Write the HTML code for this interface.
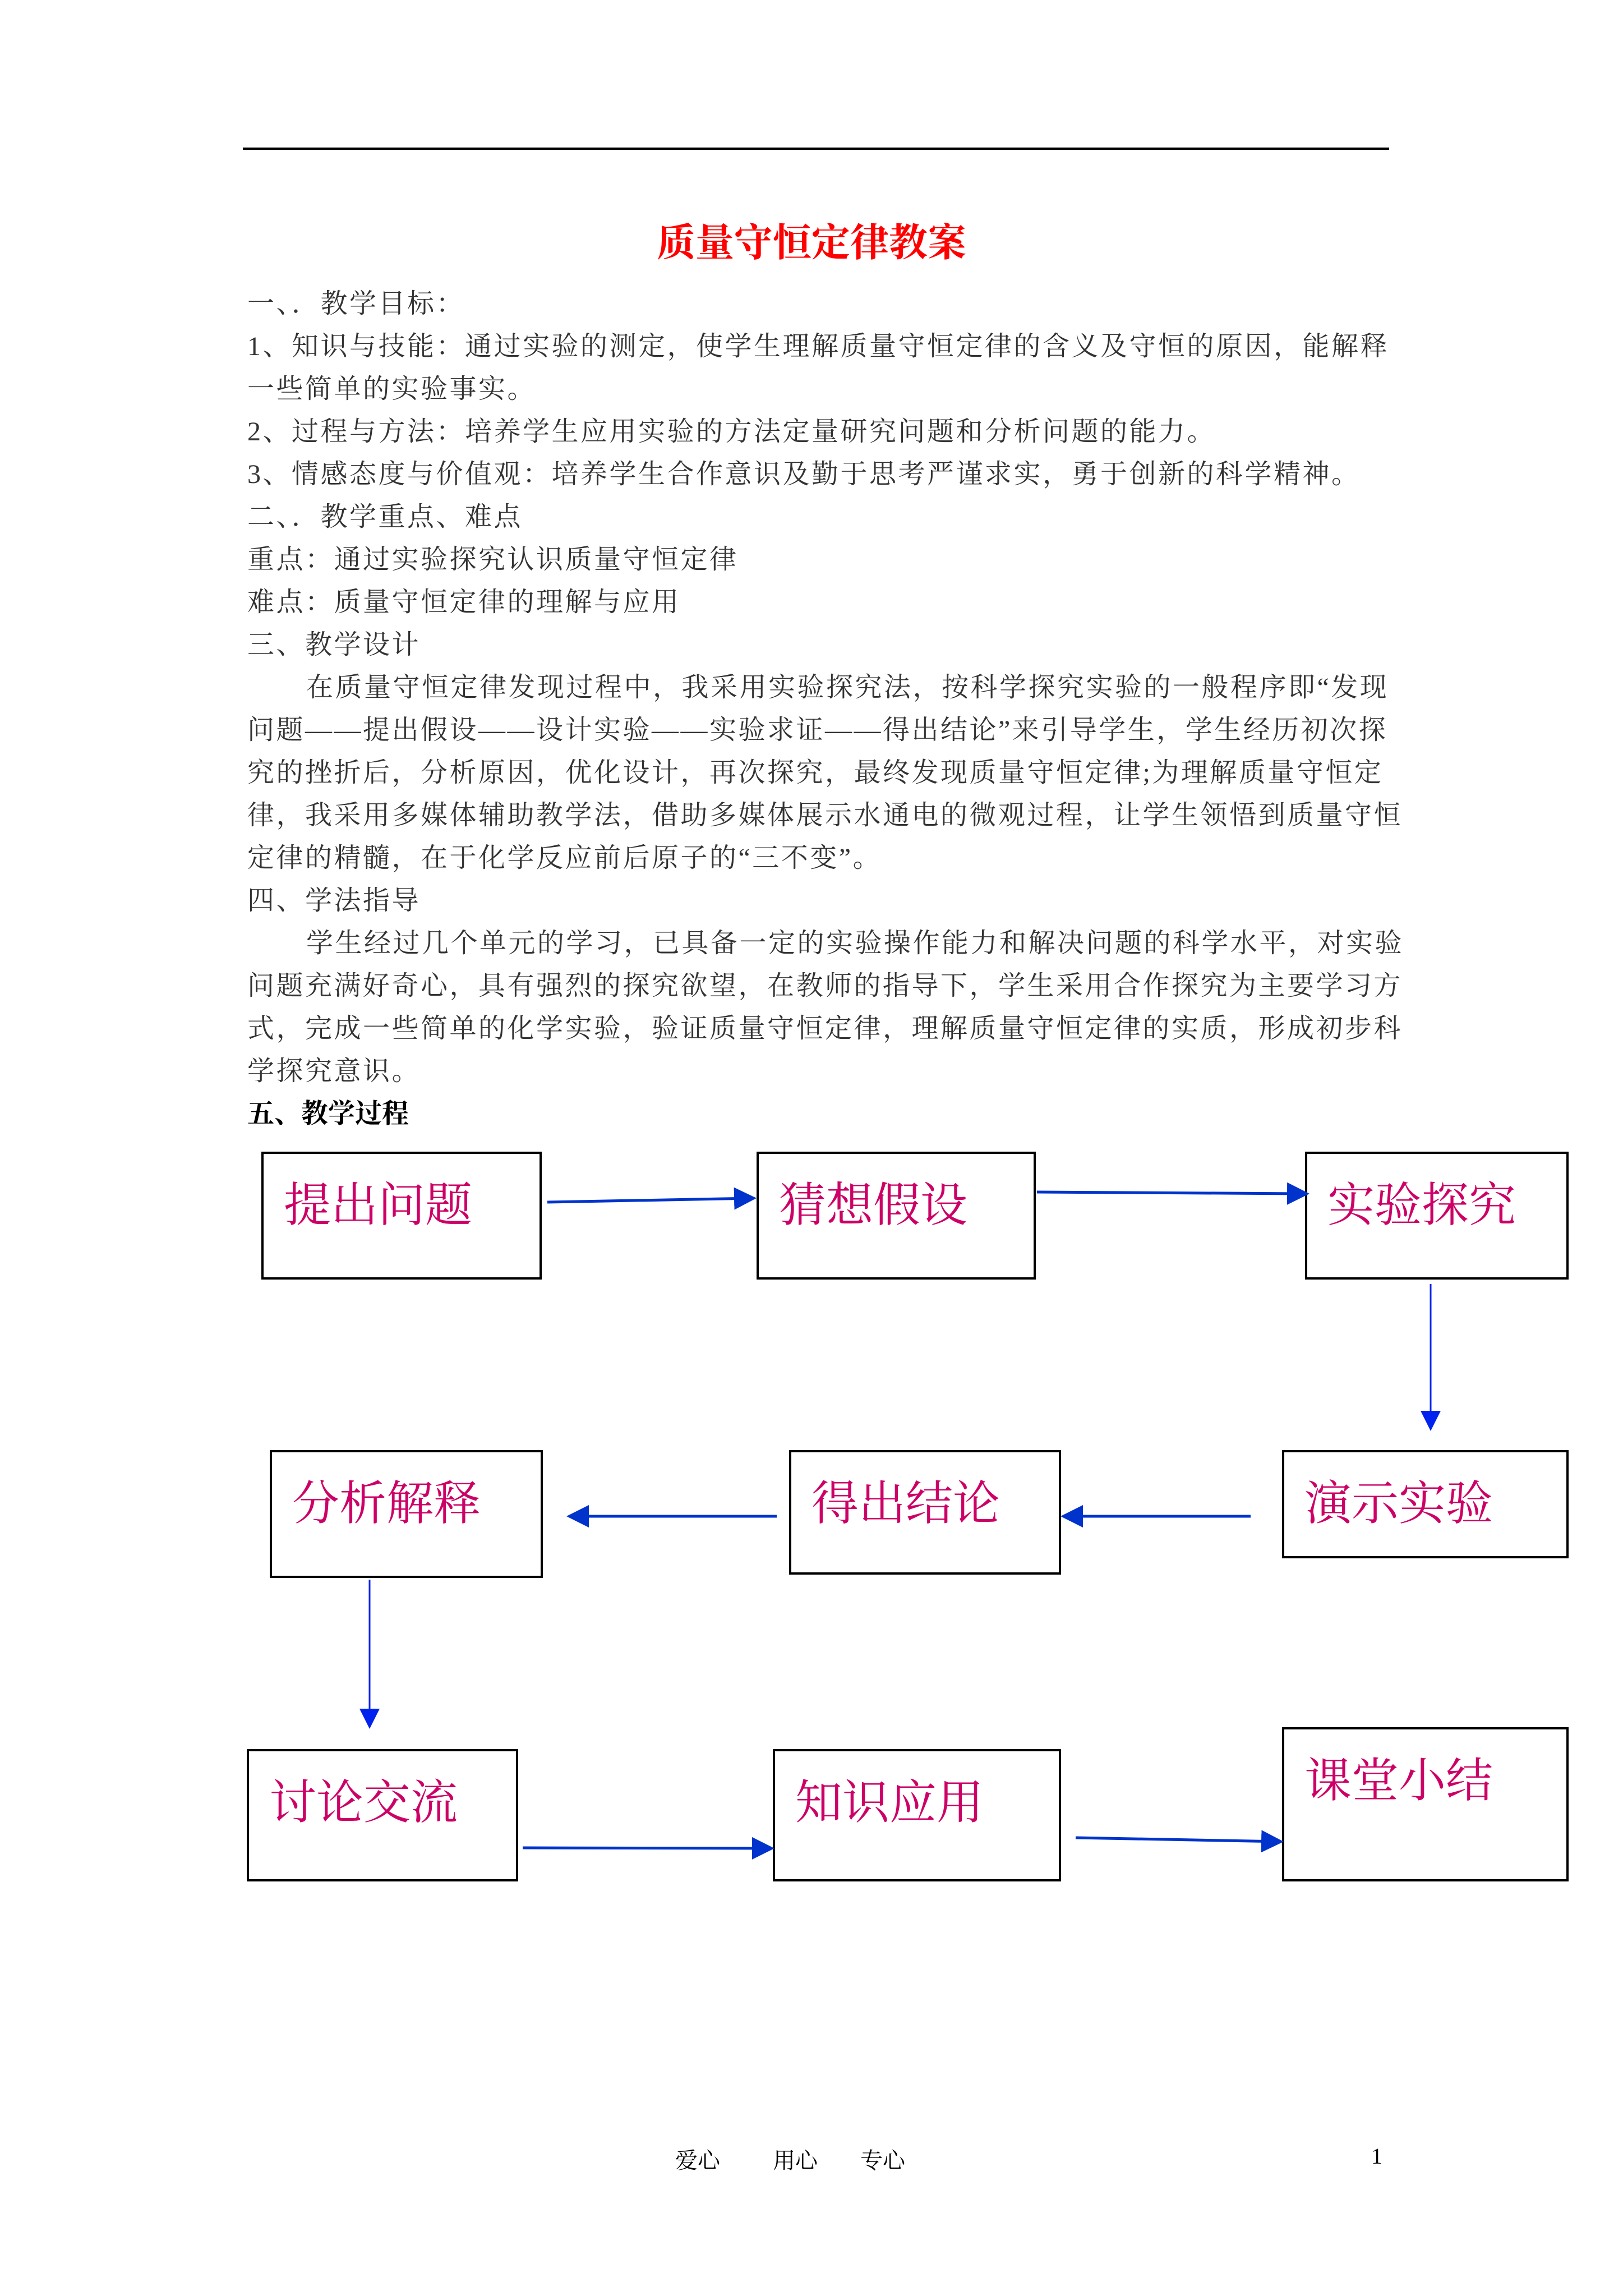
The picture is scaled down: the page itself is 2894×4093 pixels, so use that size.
<!DOCTYPE html>
<html><head><meta charset="utf-8">
<style>
html,body{margin:0;padding:0;background:#fff;}
body{width:2894px;height:4093px;position:relative;overflow:hidden;font-family:"Liberation Serif","Noto Serif CJK SC",serif;}
.rule{position:absolute;left:433px;top:263px;width:2044px;height:4px;background:#000;}
.title{position:absolute;left:0;width:2894px;top:393px;text-align:center;color:#ff0000;font-size:69px;font-weight:bold;line-height:80px;}
.t{position:absolute;left:441px;font-size:48px;line-height:60px;color:#333;white-space:nowrap;letter-spacing:3.5px;}
.box{position:absolute;border:4px solid #000;box-sizing:border-box;}
.lbl{position:absolute;color:#cc0066;font-size:84px;line-height:90px;white-space:nowrap;}
.foot{position:absolute;top:3820px;font-size:40px;color:#000;}
</style></head><body>
<div class="rule"></div>
<div class="title">质量守恒定律教案</div>
<div class="t" style="top:512px">一、．教学目标：</div>
<div class="t" style="top:588px">1、知识与技能：通过实验的测定，使学生理解质量守恒定律的含义及守恒的原因，能解释</div>
<div class="t" style="top:664px">一些简单的实验事实。</div>
<div class="t" style="top:740px">2、过程与方法：培养学生应用实验的方法定量研究问题和分析问题的能力。</div>
<div class="t" style="top:816px">3、情感态度与价值观：培养学生合作意识及勤于思考严谨求实，勇于创新的科学精神。</div>
<div class="t" style="top:892px">二、．教学重点、难点</div>
<div class="t" style="top:968px">重点：通过实验探究认识质量守恒定律</div>
<div class="t" style="top:1044px">难点：质量守恒定律的理解与应用</div>
<div class="t" style="top:1120px">三、教学设计</div>
<div class="t" style="top:1196px;left:546px">在质量守恒定律发现过程中，我采用实验探究法，按科学探究实验的一般程序即“发现</div>
<div class="t" style="top:1272px">问题——提出假设——设计实验——实验求证——得出结论”来引导学生，学生经历初次探</div>
<div class="t" style="top:1348px">究的挫折后，分析原因，优化设计，再次探究，最终发现质量守恒定律;为理解质量守恒定</div>
<div class="t" style="top:1424px">律，我采用多媒体辅助教学法，借助多媒体展示水通电的微观过程，让学生领悟到质量守恒</div>
<div class="t" style="top:1500px">定律的精髓，在于化学反应前后原子的“三不变”。</div>
<div class="t" style="top:1576px">四、学法指导</div>
<div class="t" style="top:1652px;left:546px">学生经过几个单元的学习，已具备一定的实验操作能力和解决问题的科学水平，对实验</div>
<div class="t" style="top:1728px">问题充满好奇心，具有强烈的探究欲望，在教师的指导下，学生采用合作探究为主要学习方</div>
<div class="t" style="top:1804px">式，完成一些简单的化学实验，验证质量守恒定律，理解质量守恒定律的实质，形成初步科</div>
<div class="t" style="top:1880px">学探究意识。</div>
<div class="t" style="top:1956px;color:#000;font-weight:bold;letter-spacing:0">五、教学过程</div>

<div class="box" style="left:466px;top:2053px;width:500px;height:228px"></div>
<div class="lbl" style="left:506px;top:2105px">提出问题</div>
<div class="box" style="left:1349px;top:2053px;width:498px;height:228px"></div>
<div class="lbl" style="left:1389px;top:2105px">猜想假设</div>
<div class="box" style="left:2327px;top:2053px;width:470px;height:228px"></div>
<div class="lbl" style="left:2367px;top:2105px">实验探究</div>

<div class="box" style="left:481px;top:2585px;width:487px;height:228px"></div>
<div class="lbl" style="left:521px;top:2637px">分析解释</div>
<div class="box" style="left:1407px;top:2585px;width:485px;height:222px"></div>
<div class="lbl" style="left:1447px;top:2637px">得出结论</div>
<div class="box" style="left:2286px;top:2585px;width:511px;height:193px"></div>
<div class="lbl" style="left:2326px;top:2637px">演示实验</div>

<div class="box" style="left:440px;top:3118px;width:484px;height:236px"></div>
<div class="lbl" style="left:480px;top:3170px">讨论交流</div>
<div class="box" style="left:1378px;top:3118px;width:514px;height:236px"></div>
<div class="lbl" style="left:1418px;top:3170px">知识应用</div>
<div class="box" style="left:2286px;top:3079px;width:511px;height:275px"></div>
<div class="lbl" style="left:2326px;top:3131px">课堂小结</div>

<svg width="2894" height="4093" style="position:absolute;left:0;top:0">
<defs><marker id="a" markerWidth="8" markerHeight="8" refX="7" refY="4" orient="auto" markerUnits="strokeWidth"><path d="M0,0 L8,4 L0,8 z" fill="#0033cc"/></marker>
<marker id="b" markerWidth="12" markerHeight="12" refX="11" refY="6" orient="auto" markerUnits="strokeWidth"><path d="M0,0 L12,6 L0,12 z" fill="#0022ee"/></marker></defs>
<g stroke="#0033cc" stroke-width="5" fill="none">
<line x1="976" y1="2143" x2="1344" y2="2136" marker-end="url(#a)"/>
<line x1="1849" y1="2125" x2="2330" y2="2128" marker-end="url(#a)"/>
<line x1="2230" y1="2703" x2="1896" y2="2703" marker-end="url(#a)"/>
<line x1="1385" y1="2703" x2="1015" y2="2703" marker-end="url(#a)"/>
<line x1="932" y1="3294" x2="1376" y2="3295" marker-end="url(#a)"/>
<line x1="1918" y1="3276" x2="2284" y2="3283" marker-end="url(#a)"/>
</g>
<g stroke="#0022ee" stroke-width="3" fill="none">
<line x1="2551" y1="2289" x2="2551" y2="2548" marker-end="url(#b)"/>
<line x1="659" y1="2816" x2="659" y2="3079" marker-end="url(#b)"/>
</g>
</svg>
<div class="foot" style="left:1204px">爱心</div>
<div class="foot" style="left:1378px">用心</div>
<div class="foot" style="left:1534px">专心</div>
<div class="foot" style="left:2445px">1</div>
</body></html>
